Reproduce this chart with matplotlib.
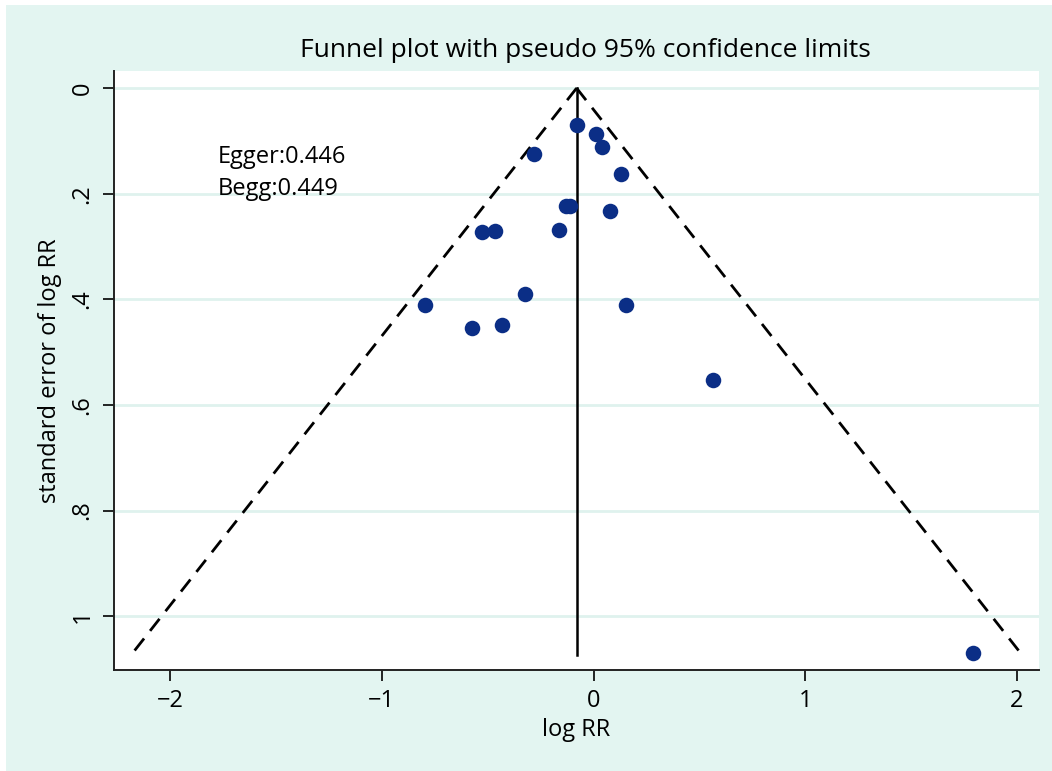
import numpy as np
import matplotlib as mpl
from matplotlib import pyplot as plt
from matplotlib.patches import Rectangle

plt.rcParams['font.family'] = ['Open Sans', 'DejaVu Sans']

# study estimates
log_rr = [-0.080, 0.013, 0.038, -0.282, 0.132, -0.129, -0.112, 0.077,
          -0.529, -0.464, -0.164, -0.326, -0.797, 0.153, -0.573, -0.431,
          0.562, 1.790]
se_log_rr = [0.070, 0.086, 0.111, 0.124, 0.163, 0.223, 0.223, 0.232,
             0.272, 0.270, 0.268, 0.389, 0.410, 0.411, 0.455, 0.449,
             0.553, 1.070]
pooled = -0.080
se_max = 1.074
egger_p = "0.446"
begg_p = "0.449"

xticks = [-2, -1, 0, 1, 2]
xtick_labels = ["\u22122", "\u22121", "0", "1", "2"]
yticks = [0, 0.2, 0.4, 0.6, 0.8, 1.0]
ytick_labels = ["0", ".2", ".4", ".6", ".8", "1"]

mint = "#e3f5f1"
grid_col = "#dff2ee"
navy = "#0b2e86"

fig = plt.figure(figsize=(10.52, 7.71), dpi=100, facecolor=mint)
# thin white strips at the top and left edge
fig.patches.append(Rectangle((0, 1 - 5/771), 1, 5/771, transform=fig.transFigure,
                             facecolor="white", edgecolor="none", zorder=-10))
fig.patches.append(Rectangle((0, 0), 6/1052, 1, transform=fig.transFigure,
                             facecolor="white", edgecolor="none", zorder=-10))
ax = fig.add_axes([114/1052, 1 - 670/771, (1039 - 114)/1052, (670 - 70.7)/771])
ax.set_facecolor("white")

# funnel limits
se_line = np.array([0, se_max])
ax.plot(pooled - 1.96*se_line, se_line, color="black", ls=(0, (5.5, 3.5)), lw=2)
ax.plot(pooled + 1.96*se_line, se_line, color="black", ls=(0, (5.5, 3.5)), lw=2)
ax.plot([pooled, pooled], se_line, color="black", lw=1.8)

ax.scatter(log_rr, se_log_rr, s=125, color=navy, zorder=3, linewidths=0)

ax.text(-1.776, 0.131, "Egger:" + egger_p, fontsize=17, va="center", ha="left")
ax.text(-1.776, 0.191, "Begg:" + begg_p, fontsize=17, va="center", ha="left")

ax.set_xlim(-2.265, 2.104)
ax.set_ylim(1.102, -0.033)
ax.set_xticks(xticks)
ax.set_xticklabels(xtick_labels)
ax.set_yticks(yticks)
ax.set_yticklabels(ytick_labels, rotation=90, va="center")
ax.yaxis.grid(True, color=grid_col, lw=2)
ax.set_axisbelow(True)
ax.tick_params(axis="both", direction="out", length=8, width=1.2, labelsize=17, pad=6)
for s in ["top", "right"]:
    ax.spines[s].set_visible(False)
for s in ["left", "bottom"]:
    ax.spines[s].set_linewidth(1.4)
    ax.spines[s].set_color("#222222")

ax.set_xlabel("log RR", fontsize=17, labelpad=3)
ax.set_ylabel("standard error of log RR", fontsize=17, labelpad=6)
ax.set_title("Funnel plot with pseudo 95% confidence limits", fontsize=19, pad=10, x=0.51)

fig.savefig("out.png", dpi=100, facecolor=fig.get_facecolor())
